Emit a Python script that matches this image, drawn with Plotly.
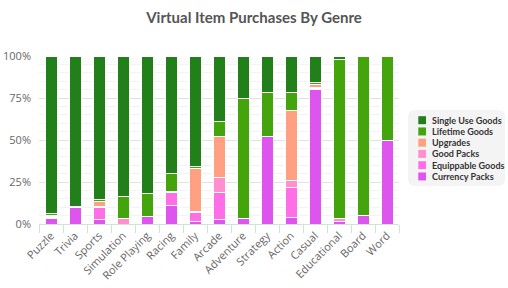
import plotly.graph_objects as go

genres = ["Puzzle", "Trivia", "Sports", "Simulation", "Role Playing", "Racing", "Family",
          "Arcade", "Adventure", "Strategy", "Action", "Casual", "Educational", "Board", "Word"]

currency_packs  = [3.0, 10.0, 2.5, 0.0, 4.5, 11.0, 1.5, 2.5, 3.0, 52.0, 4.0, 80.0, 1.5, 5.0, 49.5]
equippable      = [1.0, 0.0, 7.5, 0.0, 0.0, 8.0, 5.5, 16.0, 0.0, 0.0, 18.0, 0.5, 0.0, 0.0, 0.0]
good_packs      = [0.5, 0.0, 0.5, 3.0, 0.0, 0.5, 0.5, 9.0, 0.5, 0.0, 4.0, 0.8, 1.5, 0.0, 0.0]
upgrades        = [0.5, 0.0, 3.0, 0.5, 0.0, 0.0, 25.5, 24.5, 0.0, 0.0, 41.5, 1.5, 0.0, 0.0, 0.0]
lifetime        = [1.5, 0.5, 1.0, 13.0, 13.5, 10.5, 1.0, 9.0, 71.5, 26.5, 11.0, 1.7, 95.0, 95.0, 50.5]
single_use      = [93.5, 89.5, 85.5, 83.5, 82.0, 70.0, 66.0, 39.0, 25.0, 21.5, 21.5, 15.5, 2.0, 0.0, 0.0]

series = [
    ("Currency Packs", currency_packs, "#dd55ee"),
    ("Equippable Goods", equippable, "#ff6ee6"),
    ("Good Packs", good_packs, "#ff8fcf"),
    ("Upgrades", upgrades, "#ffa083"),
    ("Lifetime Goods", lifetime, "#44a40c"),
    ("Single Use Goods", single_use, "#21801a"),
]

W, H = 508, 288
ML, MR, MT, MB = 39, 109, 56, 64
PW, PH = W - ML - MR, H - MT - MB


def px(x):
    return (x - ML) / PW


def py(y):
    return (H - MB - y) / PH


fig = go.Figure()
for name, vals, color in series:
    fig.add_trace(go.Bar(
        x=genres, y=vals, name=name,
        marker=dict(color=color, line=dict(color="white", width=1)),
        width=0.5, showlegend=False,
    ))

# custom legend (compact, like the reference)
x0, x1, y0, y1, r = 408, 505, 110, 186, 7
path = (f"M {px(x0 + r)},{py(y0)} L {px(x1 - r)},{py(y0)} "
        f"Q {px(x1)},{py(y0)} {px(x1)},{py(y0 + r)} L {px(x1)},{py(y1 - r)} "
        f"Q {px(x1)},{py(y1)} {px(x1 - r)},{py(y1)} L {px(x0 + r)},{py(y1)} "
        f"Q {px(x0)},{py(y1)} {px(x0)},{py(y1 - r)} L {px(x0)},{py(y0 + r)} "
        f"Q {px(x0)},{py(y0)} {px(x0 + r)},{py(y0)} Z")
shapes = [dict(type="path", path=path, xref="paper", yref="paper",
               fillcolor="#f4f4f4", line=dict(width=0), layer="below")]
annotations = []
row_y0, row_dy = 120.2, 11.25
for i, (name, vals, color) in enumerate(reversed(series)):
    cy = row_y0 + i * row_dy
    shapes.append(dict(type="rect", xref="paper", yref="paper",
                       x0=px(418.3), x1=px(426), y0=py(cy - 4), y1=py(cy + 4),
                       fillcolor=color, line=dict(width=0)))
    annotations.append(dict(text=f"<b>{name}</b>", xref="paper", yref="paper",
                            x=px(430), y=py(cy), xanchor="left", yanchor="middle",
                            showarrow=False, font=dict(family="Lato", size=9, color="#333333")))

fig.update_layout(
    width=W, height=H,
    barmode="stack",
    margin=dict(l=ML, r=MR, t=MT, b=MB),
    plot_bgcolor="white", paper_bgcolor="white",
    font=dict(family="Open Sans", color="#666666", size=11),
    title=dict(text="<b>Virtual Item Purchases By Genre</b>", x=0.5, xanchor="center",
               xref="container", y=0.94, yanchor="middle",
               font=dict(family="Lato", size=15, color="#555555")),
    shapes=shapes, annotations=annotations,
    showlegend=False,
)
fig.update_xaxes(
    tickangle=-45, tickson="boundaries", ticks="outside", ticklen=8, tickcolor="#cfe6d6",
    showline=True, linecolor="#cfe6d6", linewidth=1, automargin=False,
    tickfont=dict(size=11, color="#666666"),
)
fig.update_yaxes(
    range=[0, 100], tickvals=[0, 25, 50, 75, 100], ticktext=["0%", "25%", "50%", "75%", "100%"],
    gridcolor="#e2e2e2", gridwidth=1, zeroline=False, automargin=False,
    minor=dict(dtick=5, showgrid=True, gridcolor="#f3f3f3", gridwidth=1),
    ticks="", ticklen=0, ticklabelstandoff=7, tickfont=dict(size=11, color="#666666"),
)

fig.write_html("out.html")
